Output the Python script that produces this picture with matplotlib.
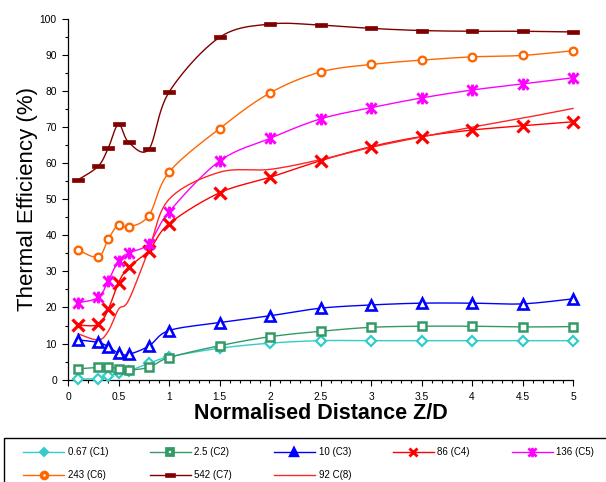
import numpy as np
import matplotlib
matplotlib.use("Agg")
import matplotlib.pyplot as plt
from matplotlib.path import Path
from matplotlib.lines import Line2D
from matplotlib.patches import Rectangle

plt.rcParams['font.family'] = ['Liberation Sans', 'DejaVu Sans']

x = [0.1, 0.3, 0.4, 0.5, 0.6, 0.8, 1, 1.5, 2, 2.5, 3, 3.5, 4, 4.5, 5]
c1 = [0.1, 0.3, 1.0, 1.9, 2.4, 4.5, 6.3, 8.7, 10.1, 10.8, 10.8, 10.8, 10.8, 10.8, 10.8]
c2 = [3.0, 3.4, 3.5, 3.0, 2.7, 3.4, 6.1, 9.4, 11.9, 13.4, 14.5, 14.8, 14.8, 14.6, 14.7]
c3 = [11.0, 10.3, 9.1, 7.3, 7.0, 9.3, 13.6, 15.8, 17.7, 19.8, 20.7, 21.2, 21.2, 21.0, 22.4]
c4 = [15.1, 15.3, 19.6, 26.9, 31.1, 35.8, 43.2, 51.8, 56.1, 60.7, 64.6, 67.4, 69.2, 70.4, 71.5]
c5 = [21.3, 22.8, 27.4, 33.0, 35.1, 37.7, 46.5, 60.6, 66.9, 72.3, 75.4, 78.1, 80.3, 82.0, 83.7]
c6 = [35.9, 34.0, 39.0, 43.0, 42.3, 45.5, 57.5, 69.6, 79.5, 85.3, 87.4, 88.6, 89.5, 89.9, 91.2]
c7 = [55.4, 59.2, 64.3, 70.8, 65.8, 63.9, 79.7, 94.9, 98.6, 98.3, 97.4, 96.8, 96.6, 96.6, 96.4]
c8 = [12.7, 11.0, 13.5, 19.5, 22.0, 36.0, 50.0, 57.5, 58.3, 61.0, 64.4, 67.3, 70.0, 72.5, 75.2]
labels = ["0.67 (C1)", "2.5 (C2)", "10 (C3)", "86 (C4)", "136 (C5)",
          "243 (C6)", "542 (C7)", "92 C(8)"]
x_ticklabels = ['0', '0.5', '1', '1.5', '2', '2.5', '3', '3.5', '4', '4.5', '5']


def smooth(xs, ys, n=24):
    P = np.column_stack([xs, ys]).astype(float)
    P = np.vstack([P[0], P, P[-1]])
    out = []
    t = np.linspace(0, 1, n)[:, None]
    for i in range(1, len(P) - 2):
        p0, p1, p2, p3 = P[i - 1], P[i], P[i + 1], P[i + 2]
        b1 = p1 + (p2 - p0) / 6.0
        b2 = p2 - (p3 - p1) / 6.0
        seg = ((1 - t) ** 3) * p1 + 3 * ((1 - t) ** 2) * t * b1 + 3 * (1 - t) * t ** 2 * b2 + t ** 3 * p2
        out.append(seg if i == 1 else seg[1:])
    s = np.vstack(out)
    return s[:, 0], s[:, 1]


star = Path([(-1, -1), (1, 1), (-1, 1), (1, -1), (0, -1.15), (0, 1.15)],
            [Path.MOVETO, Path.LINETO, Path.MOVETO, Path.LINETO, Path.MOVETO, Path.LINETO])
bar = Path([(-1, -0.38), (1, -0.38), (1, 0.38), (-1, 0.38), (-1, -0.38)],
           [Path.MOVETO, Path.LINETO, Path.LINETO, Path.LINETO, Path.CLOSEPOLY])

styles = [
    dict(color='#33CCCC', marker='D', ms=5.2, mfc='white', mew=1.6),
    dict(color='#339966', marker='s', ms=6.2, mfc='white', mew=1.8),
    dict(color='#0000FF', marker='^', ms=7.0, mfc='white', mew=1.9),
    dict(color='#FF0000', marker='x', ms=8.0, mfc='#FF0000', mew=2.3),
    dict(color='#FF00FF', marker=star, ms=8.5, mfc='#FF00FF', mew=2.1),
    dict(color='#FF6600', marker='o', ms=5.5, mfc='white', mew=1.7),
    dict(color='#800000', marker=bar, ms=8.5, mfc='#800000', mew=0.5),
    dict(color='#FF2626', marker=None),
]
series = [c1, c2, c3, c4, c5, c6, c7, c8]

fig = plt.figure(figsize=(6.06, 4.82), dpi=100)
ax = fig.add_axes([68 / 606, 1 - 379.6 / 482, (573 - 68) / 606, (379.6 - 19) / 482])

order = [7, 0, 1, 2, 3, 4, 5, 6]
for i in order:
    ys = series[i]
    st = styles[i]
    sx, sy = smooth(x, ys)
    ax.plot(sx, sy, color=st['color'], lw=1.0, zorder=2 + i * 0.1, clip_on=False)
    if st['marker'] is not None:
        ax.plot(x, ys, ls='none', marker=st['marker'], ms=st['ms'], mec=st['color'],
                mfc=st['mfc'], mew=st['mew'], zorder=3 + i * 0.1, clip_on=False)

handles = []
for i in range(8):
    st = styles[i]
    if st['marker'] is not None:
        mew = st['mew'] * (1.5 if i in (1, 5) else 0.9)
        h = Line2D([], [], color=st['color'], lw=1.0, marker=st['marker'],
                   ms=st['ms'] * 0.8, mec=st['color'],
                   mfc=st['color'] if i in (0, 2) else st['mfc'], mew=mew)
    else:
        h = Line2D([], [], color=st['color'], lw=1.0)
    handles.append(h)

# row-major legend order (matplotlib fills columns first)
leg_order = [0, 5, 1, 6, 2, 7, 3, 4]

ax.set_xlim(0, 5)
ax.set_ylim(0, 100)
ax.set_xticks(np.arange(0, 5.01, 0.5))
ax.set_xticklabels(x_ticklabels)
ax.set_xticks(np.arange(0, 5.01, 0.1), minor=True)
ax.set_yticks(np.arange(0, 101, 10))
ax.set_yticks(np.arange(0, 101, 5), minor=True)
ax.tick_params(which='major', direction='out', length=4, width=0.8, labelsize=7.4, colors='black')
ax.tick_params(axis='x', which='major', pad=5)
ax.tick_params(axis='y', which='major', pad=4)
ax.tick_params(which='minor', direction='out', length=2.5, width=0.8)
for s in ['top', 'right']:
    ax.spines[s].set_visible(False)
for s in ['left', 'bottom']:
    ax.spines[s].set_linewidth(0.9)

ax.set_ylabel('Thermal Efficiency (%)', fontsize=16, labelpad=1.5)
ax.set_xlabel('Normalised Distance Z/D', fontsize=15.5, fontweight='bold', labelpad=1)

leg = fig.legend([handles[k] for k in leg_order], [labels[k] for k in leg_order],
                 ncol=5, loc='upper left',
                 bbox_to_anchor=(19 / 606, 1 - 443.5 / 482, (598 - 19) / 606, 0), mode='expand',
                 fontsize=7, frameon=False,
                 handlelength=4.25, handletextpad=0.35, numpoints=1,
                 borderpad=0.4, labelspacing=1.3, borderaxespad=0)

fig.patches.append(Rectangle((4 / 606, -0.05), 1.2, 0.05 + (482 - 438) / 482,
                             transform=fig.transFigure, fill=False,
                             edgecolor='black', linewidth=1.0))

fig.savefig('out.png', dpi=100)
